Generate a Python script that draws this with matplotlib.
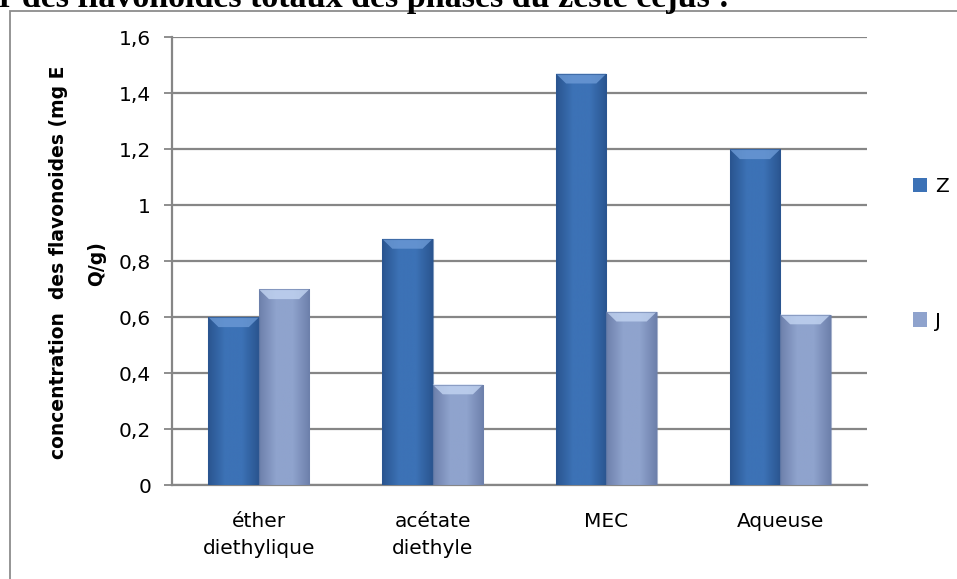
import numpy as np
import matplotlib
matplotlib.use("Agg")
import matplotlib.pyplot as plt
from matplotlib.patches import Rectangle, Polygon
from matplotlib.colors import LinearSegmentedColormap

plt.rcParams["font.family"] = ["DejaVu Sans"]

categories = ["éther\ndiethylique", "acétate\ndiethyle", "MEC", "Aqueuse"]
series_names = ["Z", "J"]
z_values = [0.60, 0.88, 1.47, 1.20]
j_values = [0.70, 0.36, 0.62, 0.61]
y_ticks = [0, 0.2, 0.4, 0.6, 0.8, 1.0, 1.2, 1.4, 1.6]

# face colours: (edge shade, middle shade, bevel highlight)
z_shades = ("#2a5590", "#3c72b6", "#6c9ad6")
j_shades = ("#6d80ab", "#8fa3cd", "#c3d5f2")

W, H = 957, 579
fs = 14.5
fig = plt.figure(figsize=(W / 100, H / 100), dpi=100)

# heading from the page, cut off at the top
fig.text(-1 / W, 1 - 7.5 / H, "r des flavonoides totaux des phases du zeste cejus :",
         family="Liberation Serif", weight="bold", fontsize=24.5,
         ha="left", va="baseline")

# outer chart border (runs off the right and bottom edges)
fig.patches.append(Rectangle((10 / W, -0.1), 1.2, 1 - 11 / H + 0.1,
                             transform=fig.transFigure, fill=False,
                             edgecolor="#8c8c8c", lw=1.3))

ax = fig.add_axes([172 / W, (H - 485.3) / H, (867 - 172) / W, (485.3 - 37.3) / H])

x = np.arange(len(categories))
bw = 0.29
bars_z = ax.bar(x - bw / 2, z_values, bw, color=z_shades[1], zorder=3, label=series_names[0])
bars_j = ax.bar(x + bw / 2, j_values, bw, color=j_shades[1], zorder=3, label=series_names[1])


def shade(bars, shades):
    cmap = LinearSegmentedColormap.from_list("s", [shades[0], shades[1], shades[1], shades[0]])
    grad = np.linspace(0, 1, 64).reshape(1, -1)
    for b in bars:
        x0, y0 = b.get_x(), b.get_y()
        w, h = b.get_width(), b.get_height()
        im = ax.imshow(grad, cmap=cmap, aspect="auto", extent=(x0, x0 + w, y0, y0 + h),
                       zorder=3.5, interpolation="bilinear")
        im.set_clip_path(b)
        dh = 0.035
        inset = w * 0.2
        ax.add_patch(Polygon([(x0, y0 + h), (x0 + w, y0 + h), (x0 + w - inset, y0 + h - dh),
                              (x0 + inset, y0 + h - dh)], closed=True,
                             facecolor=shades[2], edgecolor="none", alpha=0.8, zorder=4))
        ax.add_patch(Rectangle((x0, y0), w, h, fill=False, edgecolor=shades[0],
                               lw=0.8, alpha=0.6, zorder=4))


shade(bars_z, z_shades)
shade(bars_j, j_shades)

ax.set_xlim(-0.5, len(categories) - 0.5)
ax.set_ylim(0, 1.6)
ax.set_yticks(y_ticks)
ax.set_yticklabels([f"{t:g}".replace(".", ",") for t in y_ticks], fontsize=fs)
ax.set_xticks(x)
ax.set_xticklabels(categories, fontsize=fs, linespacing=1.55)
ax.tick_params(axis="x", length=0, pad=19)
ax.tick_params(axis="y", length=6, width=1.3, color="#868686", pad=9)
ax.yaxis.grid(True, color="#868686", lw=1.6, zorder=0)
ax.set_axisbelow(True)
for side in ("top", "right"):
    ax.spines[side].set_visible(False)
for side in ("left", "bottom"):
    ax.spines[side].set_color("#868686")
    ax.spines[side].set_linewidth(1.6)

# two-line rotated axis title
fig.text(59 / W, 1 - 262 / H, "concentration  des flavonoides (mg E", rotation=90,
         fontsize=13.5, weight="bold", ha="center", va="center")
fig.text(97 / W, 1 - 264 / H, "Q/g)", rotation=90,
         fontsize=13.5, weight="bold", ha="center", va="center")

leg = ax.legend(loc="upper left", bbox_to_anchor=(895 / W, 1 - 159 / H),
                bbox_transform=fig.transFigure, frameon=False, fontsize=fs,
                handlelength=0.7, handleheight=0.7, handletextpad=0.4,
                labelspacing=5.73)

fig.savefig("out.png", dpi=100)
